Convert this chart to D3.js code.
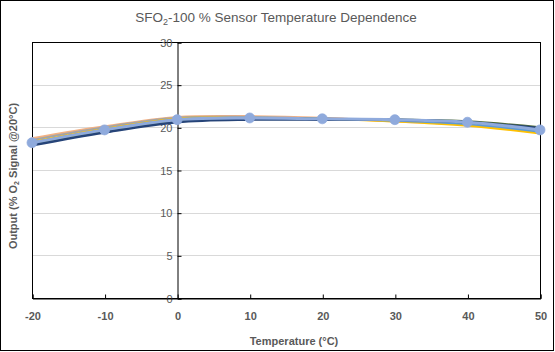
<!DOCTYPE html>
<html>
<head>
<meta charset="utf-8">
<script src="https://cdn.jsdelivr.net/npm/d3@7"></script>
<style>
  body { margin: 0; background: #fff; }
  text { font-family: "Liberation Sans", Arial, sans-serif; fill: #595959; }
</style>
</head>
<body>
<div id="chart"></div>
<script>
// Temperatures (x) and one array per sensor series
const temps = [-20, -10, 0, 10, 20, 30, 40, 50];
const orangeSeries = [18.7, 20.1, 21.2, 21.3, 21.1, 20.7, 20.3, 19.5];
const greySeries = [18.5, 20.0, 21.1, 21.2, 21.0, 20.8, 20.4, 19.6];
const yellowSeries = [18.3, 19.8, 21.0, 21.1, 21.0, 20.7, 20.2, 19.3];
const blueSeries = [18.2, 19.7, 20.9, 21.1, 21.0, 20.8, 20.4, 19.5];
const greenSeries = [18.0, 19.5, 20.7, 21.0, 21.0, 20.9, 20.7, 20.0];
const navySeries = [17.9, 19.4, 20.6, 20.9, 20.9, 20.9, 20.6, 19.9];
const lightBlueSeries = [18.2, 19.7, 20.9, 21.1, 21.0, 20.9, 20.6, 19.7];
const yTicks = [0, 5, 10, 15, 20, 25, 30];
const xTicks = [-20, -10, 0, 10, 20, 30, 40, 50];

const series = [
    { values: orangeSeries, color: "#F4B183", width: 2.25 },
    { values: greySeries, color: "#A5A5A5", width: 2.25 },
    { values: yellowSeries, color: "#FFC000", width: 2.25 },
    { values: blueSeries, color: "#5B9BD5", width: 2.25 },
    { values: greenSeries, color: "#4F6B3A", width: 2.25 },
    { values: navySeries, color: "#264478", width: 2.5 },
    { values: lightBlueSeries, color: "#8FAADC", width: 3, markers: true }
];

const W = 555, H = 352;
const plot = { left: 32, right: 540, top: 42, bottom: 298 };

const svg = d3.select("#chart")
    .append("svg")
    .attr("width", W)
    .attr("height", H);

// Outer chart border
svg.append("rect")
    .attr("x", 0.5).attr("y", 0.5)
    .attr("width", W - 2).attr("height", H - 2)
    .attr("fill", "#fff")
    .attr("stroke", "#000")
    .attr("stroke-width", 1);

const x = d3.scaleLinear().domain([-20, 50]).range([plot.left, plot.right]);
const y = d3.scaleLinear().domain([0, 30]).range([plot.bottom, plot.top]);

// Gridlines
svg.append("g")
    .selectAll("line")
    .data(yTicks.filter(d => d > 0 && d < 30))
    .join("line")
    .attr("x1", plot.left).attr("x2", plot.right)
    .attr("y1", d => Math.round(y(d)) + 0.5).attr("y2", d => Math.round(y(d)) + 0.5)
    .attr("stroke", "#d9d9d9")
    .attr("stroke-width", 1);

// Plot area border
svg.append("rect")
    .attr("x", plot.left + 0.5).attr("y", plot.top + 0.5)
    .attr("width", plot.right - plot.left).attr("height", plot.bottom - plot.top)
    .attr("fill", "none")
    .attr("stroke", "#000")
    .attr("stroke-width", 1);

// Y axis at x = 0
const yAxis = svg.append("g")
    .attr("transform", `translate(${Math.round(x(0)) + 0.5}, 0.5)`)
    .call(d3.axisRight(y).tickValues(yTicks).tickSize(4).tickFormat(d => d));
yAxis.select(".domain").attr("stroke", "#000");
yAxis.selectAll(".tick line").attr("stroke", "#000");
yAxis.selectAll(".tick text")
    .attr("x", -5)
    .attr("text-anchor", "end")
    .style("font-size", "11px")
    .style("fill", "#595959");

// X axis at the bottom, ticks pointing inward
const xAxis = svg.append("g")
    .attr("transform", `translate(0.5, ${plot.bottom + 0.5})`)
    .call(d3.axisTop(x).tickValues(xTicks).tickSize(4).tickFormat(d => d));
xAxis.select(".domain").attr("stroke", "#000");
xAxis.selectAll(".tick line").attr("stroke", "#000");
xAxis.selectAll(".tick text")
    .attr("y", 18)
    .attr("dy", "0.32em")
    .style("font-size", "11px")
    .style("font-weight", "bold")
    .style("fill", "#595959");

// Lines
const line = d3.line()
    .x((d, i) => x(temps[i]))
    .y(d => y(d))
    .curve(d3.curveCatmullRom.alpha(0.5));

series.forEach(s => {
    svg.append("path")
        .datum(s.values)
        .attr("fill", "none")
        .attr("stroke", s.color)
        .attr("stroke-width", s.width)
        .attr("stroke-linejoin", "round")
        .attr("d", line);
});

series.filter(s => s.markers).forEach(s => {
    svg.append("g")
        .selectAll("circle")
        .data(s.values)
        .join("circle")
        .attr("cx", (d, i) => x(temps[i]))
        .attr("cy", d => y(d))
        .attr("r", 5)
        .attr("fill", s.color)
        .attr("stroke", "#8FAADC")
        .attr("stroke-width", 0.75);
});

// Title
const title = svg.append("text")
    .attr("x", 276)
    .attr("y", 22)
    .attr("text-anchor", "middle")
    .style("font-size", "13.5px");
title.append("tspan").text("SFO");
title.append("tspan").attr("dy", 3).style("font-size", "9px").text("2");
title.append("tspan").attr("dy", -3).text("-100 % Sensor  Temperature Dependence");

// X axis title
svg.append("text")
    .attr("x", 294)
    .attr("y", 345)
    .attr("text-anchor", "middle")
    .style("font-size", "11px")
    .style("font-weight", "bold")
    .text("Temperature (\u00B0C)");

// Y axis title
const yTitle = svg.append("text")
    .attr("transform", "translate(17, 176) rotate(-90)")
    .attr("text-anchor", "middle")
    .style("font-size", "11px")
    .style("font-weight", "bold");
yTitle.append("tspan").text("Output (% O");
yTitle.append("tspan").attr("dy", 2).style("font-size", "7px").text("2");
yTitle.append("tspan").attr("dy", -2).text(" Signal @20\u00B0C)");
</script>
</body>
</html>
